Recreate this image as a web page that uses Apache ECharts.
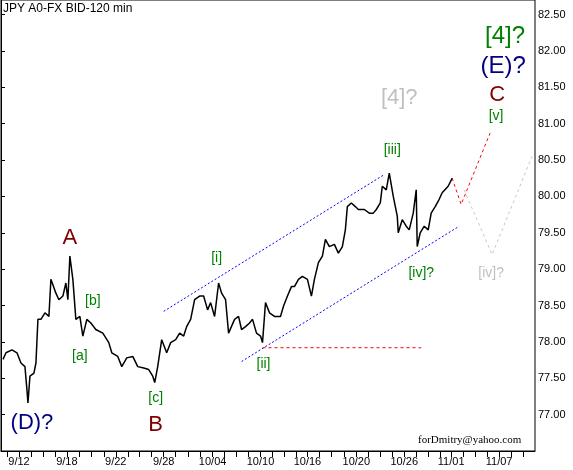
<!DOCTYPE html>
<html><head><meta charset="utf-8">
<script src="https://cdn.jsdelivr.net/npm/echarts@6/dist/echarts.min.js"></script>
<style>body{margin:0;background:#fff}#c{width:573px;height:470px}</style>
</head><body><div id="c"></div>
<script>
// bar position (one unit ~ one pixel of time axis) and closing price
var barX = [2,5,11,16,20,24,26,27,29,33,35,37,40,44,48,50,55,58,62,65,67,69,72,75,79,82,86,90,95,102,108,111,117,121,126,132,137,143,148,152,154,157,161,166,170,175,179,183,186,190,194,199,203,207,210,214,218,221,225,228,230,234,238,241,245,249,252,256,260,262,265,269,274,280,283,287,291,294,298,302,307,311,314,318,322,325,329,334,338,342,345,347,351,355,358,364,369,373,376,380,382,386,389,393,397,398,402,406,409,413,416,417,420,424,428,431,435,439,442,448,452];
var price = [77.76,77.85,77.89,77.85,77.71,77.66,77.34,77.16,77.53,77.57,77.71,78.31,78.31,78.40,78.35,78.86,78.67,78.58,78.63,78.81,78.58,79.18,78.86,78.31,78.35,78.08,78.31,78.26,78.17,78.12,77.99,77.85,77.80,77.66,77.78,77.80,77.66,77.64,77.62,77.53,77.44,77.66,78.03,77.85,77.99,78.03,78.12,78.08,78.21,78.31,78.58,78.63,78.63,78.44,78.54,78.35,78.81,78.67,78.58,78.12,78.10,78.31,78.35,78.17,78.21,78.26,78.31,78.12,78.08,77.99,78.54,78.40,78.35,78.35,78.49,78.63,78.76,78.76,78.86,78.90,78.86,78.63,78.86,79.09,79.18,79.41,79.31,79.34,79.22,79.31,79.54,79.86,79.91,79.86,79.82,79.82,79.77,79.77,79.82,79.91,80.14,80.09,80.32,80.00,79.73,79.50,79.68,79.59,79.54,79.77,80.09,79.31,79.50,79.59,79.54,79.77,79.86,79.96,80.05,80.14,80.25];
var tickDates = ['9/12','9/18','9/22','9/28','10/04','10/10','10/16','10/20','10/26','11/01','11/07'];
var tickPos = [18,66,115,163,212,260,307,356,404,451,499];
var minorTicks = [6,18,30,42,54,66,78,90,103,115,127,139,151,163,175,188,200,212,224,236,248,260,272,284,296,307,319,331,344,356,368,380,392,404,416,428,440,451,463,475,487,499,511,523];
var upperChannel = [[163,78.42],[384,80.30]];
var lowerChannel = [[241,77.73],[459,79.59]];
var redLevel = [[262,77.92],[421,77.92]];
var redPath = [[452,80.25],[461,79.89],[490,80.87]];
var greyPath = [[464,80.09],[492,79.20],[532,80.55]];
var labels = [
  ['(D)?',31,76.89,'#000080',22],['B',155,76.86,'#800000',22],['[c]',155,77.23,'#008000',14],
  ['[a]',79,77.80,'#008000',14],['[b]',92,78.56,'#008000',14],['A',69,79.43,'#800000',22],
  ['[i]',216,79.15,'#008000',14],['[ii]',263,77.69,'#008000',14],['[iii]',392,80.64,'#008000',14],
  ['[iv]?',421,78.95,'#008000',14],['[iv]?',491,78.95,'#c0c0c0',14],['[4]?',399,81.35,'#c0c0c0',22],
  ['[v]',496,81.10,'#008000',14],['C',497,81.40,'#800000',22],['(E)?',503,81.79,'#000080',24],
  ['[4]?',505,82.20,'#008000',24]
];

var chart = echarts.init(document.getElementById('c'));
function dashed(data, color, type) {
  return {type: 'line', data: data, symbol: 'none', silent: true,
    lineStyle: {color: color, width: 1, type: type || [2, 2]}};
}
chart.setOption({
  animation: false,
  grid: {left: 1, right: 38, top: 0, height: 451},
  xAxis: {type: 'value', min: 0, max: 535,
    axisLine: {onZero: false, lineStyle: {color: '#000'}},
    splitLine: {show: false},
    axisTick: {customValues: minorTicks, length: 6, inside: false, lineStyle: {color: '#000'}},
    axisLabel: {customValues: tickPos, formatter: function (v) { return tickDates[tickPos.indexOf(v)]; },
      color: '#000', fontFamily: 'Liberation Sans, Arial', fontSize: 11, margin: 5}},
  yAxis: {type: 'value', position: 'right', min: 76.5, max: 82.7, interval: 0.5,
    axisLine: {show: true, lineStyle: {color: '#000'}},
    splitLine: {show: false},
    axisTick: {show: true, length: 4, lineStyle: {color: '#000'}},
    axisLabel: {showMinLabel: false, showMaxLabel: false, color: '#000', margin: 3,
      fontFamily: 'Liberation Sans, Arial', fontSize: 11, formatter: function (v) { return v.toFixed(2); }}},
  graphic: [
    {type: 'rect', shape: {x: 1, y: 0, width: 534, height: 451}, style: {fill: 'none', stroke: '#000', lineWidth: 1}, silent: true},
    {type: 'text', left: 3, top: 3, style: {text: 'JPY A0-FX BID-120 min', fill: '#000', font: '12px "Liberation Sans", Arial'}},
    {type: 'text', left: 418, top: 435, style: {text: 'forDmitry@yahoo.com', fill: '#000', font: '11px "Liberation Serif", serif'}}
  ],
  series: [
    dashed(upperChannel, '#0000ff'), dashed(lowerChannel, '#0000ff'),
    dashed(redLevel, '#ff0000', [3, 3]), dashed(redPath, '#ff0000', [3, 3]), dashed(greyPath, '#c8c8c8', [3, 3]),
    {type: 'line', data: barX.map(function (x, i) { return [x, price[i]]; }), symbol: 'none',
      lineStyle: {color: '#000', width: 1.5}},
    {type: 'scatter', symbolSize: 0, silent: true, itemStyle: {opacity: 1},
      data: labels.map(function (l) {
        return {value: [l[1], l[2]], label: {show: true, position: 'inside', formatter: l[0],
          color: l[3], opacity: 1, fontSize: l[4], fontFamily: 'Liberation Sans, Arial'}};
      })}
  ]
});
</script></body></html>
